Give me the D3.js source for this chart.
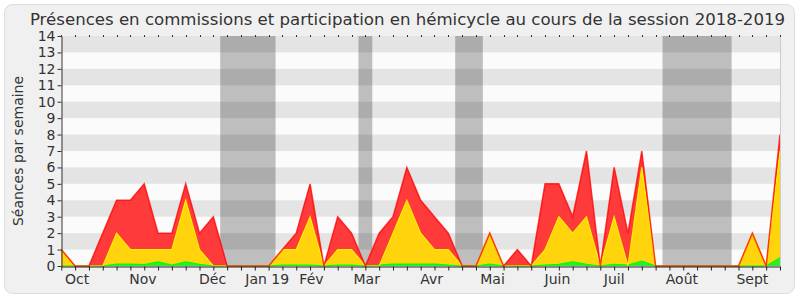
<!DOCTYPE html>
<html>
<head>
<meta charset="utf-8">
<script src="https://cdn.jsdelivr.net/npm/d3@7"></script>
<style>
  body { margin: 0; background: #ffffff; }
  text { font-family: "DejaVu Sans", sans-serif; fill: #333333; }
</style>
</head>
<body>
<div id="my_dataviz"></div>
<script>
// Weekly values, week 0 = first week of October 2018
var weeks = d3.range(53);
var presences = [1, 0, 0, 2, 4, 4, 5, 2, 2, 5, 2, 3, 0, 0, 0, 0, 1, 2, 5, 0, 3, 2, 0, 2, 3, 6, 4, 3, 2, 0,
                 0, 2, 0, 1, 0, 5, 5, 3, 7, 0, 6, 2, 7, 0, 0, 0, 0, 0, 0, 0, 2, 0, 8];
var participations = [1, 0, 0, 0, 2, 1, 1, 1, 1, 4, 1, 0, 0, 0, 0, 0, 1, 1, 3, 0, 1, 1, 0, 0, 2, 4, 2, 1, 1, 0,
                      0, 2, 0, 0, 0, 1, 3, 2, 3, 0, 3, 0, 6, 0, 0, 0, 0, 0, 0, 0, 2, 0, 7];
var hemicycle = [0, 0, 0, 0, 0.12, 0.12, 0.08, 0.25, 0.05, 0.25, 0.1, 0, 0, 0, 0, 0, 0.05, 0.05, 0.05, 0, 0.05, 0.05, 0, 0.05, 0.12, 0.12, 0.12, 0.12, 0.05, 0,
                 0, 0.12, 0, 0, 0, 0.05, 0.1, 0.25, 0.1, 0, 0.1, 0.05, 0.3, 0, 0, 0, 0, 0, 0, 0, 0, 0, 0.5];

// Parliamentary holidays, in weeks
var vacances = [[11.5, 15.5], [21.5, 22.5], [28.5, 30.5], [43.5, 48.5]];

// Month labels and the week they sit on
var moisLabels = ["Oct", "Nov", "Déc", "Jan 19", "Fév", "Mar", "Avr", "Mai", "Juin", "Juil", "Août", "Sept"];
var moisWeeks = [1.15, 5.9, 10.95, 14.9, 18.1, 22.1, 26.8, 31.2, 35.9, 40.0, 44.9, 50.0];

var yTicks = d3.range(0, 15);

var width = 800,
    height = 300;

var x = d3.scaleLinear().domain([0, 52]).range([61.3, 780]);
var y = d3.scaleLinear().domain([0, 14]).range([266, 36]);

var svg = d3.select("#my_dataviz")
    .append("svg")
    .attr("width", width)
    .attr("height", height);

// Rounded frame
svg.append("rect")
    .attr("x", 4.5).attr("y", 4.5)
    .attr("width", 790).attr("height", 289)
    .attr("rx", 8)
    .attr("fill", "#f0f0f0")
    .attr("stroke", "#dcdcdc");

// Title
svg.append("text")
    .attr("x", 407.5).attr("y", 25)
    .attr("text-anchor", "middle")
    .style("font-size", "16.6px")
    .text("Présences en commissions et participation en hémicycle au cours de la session 2018-2019");

// Plot background
svg.append("rect")
    .attr("x", x(0)).attr("y", y(14))
    .attr("width", x(52) - x(0)).attr("height", y(0) - y(14))
    .attr("fill", "#fbfbfb");

// Holiday bands
svg.selectAll("rect.vac")
    .data(vacances)
    .enter()
    .append("rect")
    .attr("class", "vac")
    .attr("x", function(d) { return x(d[0]); })
    .attr("width", function(d) { return x(d[1]) - x(d[0]); })
    .attr("y", y(14))
    .attr("height", y(0) - y(14))
    .attr("fill", "#bebebe");

// Horizontal stripes
svg.selectAll("rect.stripe")
    .data(yTicks.filter(function(d) { return d % 2 == 1; }))
    .enter()
    .append("rect")
    .attr("class", "stripe")
    .attr("x", x(0))
    .attr("width", x(52) - x(0))
    .attr("y", function(d) { return y(d + 1); })
    .attr("height", function(d) { return y(d) - y(d + 1); })
    .attr("fill", "rgba(0,0,0,0.09)");

// Areas
var series = [
    { values: presences, fill: "#ff3a3a", stroke: "#ff0000", width: 1.5, opacity: 0.75 },
    { values: participations, fill: "#ffd40c", stroke: "#ffee00", width: 1.2, opacity: 1 },
    { values: hemicycle, fill: "#33e833", stroke: "#00ff00", width: 1.2, opacity: 1 }
];

series.forEach(function(s) {
    var area = d3.area()
        .x(function(d, i) { return x(i); })
        .y0(y(0))
        .y1(function(d) { return y(d); });
    svg.append("path")
        .datum(s.values)
        .attr("d", area)
        .attr("fill", s.fill);
});

// Lines drawn after every fill, red on top so overlapping edges look orange
series.slice().reverse().forEach(function(s) {
    var line = d3.line()
        .x(function(d, i) { return x(i); })
        .y(function(d) { return y(d); });
    svg.append("path")
        .datum(s.values)
        .attr("d", line)
        .attr("fill", "none")
        .attr("stroke", s.stroke)
        .attr("stroke-width", s.width)
        .attr("stroke-opacity", s.opacity);
});

// Right border of the plot
svg.append("line")
    .attr("x1", x(52) + 0.5).attr("x2", x(52) + 0.5)
    .attr("y1", y(14)).attr("y2", y(0))
    .attr("stroke", "#cccccc");

// Y axis
var yAxis = svg.append("g")
    .attr("transform", "translate(" + (Math.round(x(0)) + 0.5) + ",0)")
    .call(d3.axisLeft(y).tickValues(yTicks).tickSize(4).tickSizeOuter(0).tickFormat(d3.format("d")));
yAxis.selectAll("text").style("font-size", "14px").attr("x", -6).attr("fill", "#333333");
yAxis.selectAll("line, path").attr("stroke", "#333333");

// X axis: weekly ticks, month labels
var xAxis = svg.append("g")
    .attr("transform", "translate(0," + (y(0) + 0.5) + ")")
    .call(d3.axisBottom(x).tickValues(weeks).tickSize(4).tickSizeOuter(0).tickFormat(""));
xAxis.selectAll("line, path").attr("stroke", "#222222");

svg.selectAll("text.mois")
    .data(moisLabels)
    .enter()
    .append("text")
    .attr("class", "mois")
    .attr("x", function(d, i) { return x(moisWeeks[i]); })
    .attr("y", 284)
    .attr("text-anchor", "middle")
    .style("font-size", "14px")
    .text(function(d) { return d; });

// Small ticks along the top edge
svg.selectAll("line.top")
    .data(weeks)
    .enter()
    .append("line")
    .attr("class", "top")
    .attr("x1", function(d) { return Math.round(x(d)) + 0.5; })
    .attr("x2", function(d) { return Math.round(x(d)) + 0.5; })
    .attr("y1", y(14) - 1)
    .attr("y2", y(14) + 1)
    .attr("stroke", "#333333");

// Y axis title
svg.append("text")
    .attr("transform", "translate(23," + ((y(0) + y(14)) / 2) + ") rotate(-90)")
    .attr("text-anchor", "middle")
    .style("font-size", "14px")
    .text("Séances par semaine");
</script>
</body>
</html>
